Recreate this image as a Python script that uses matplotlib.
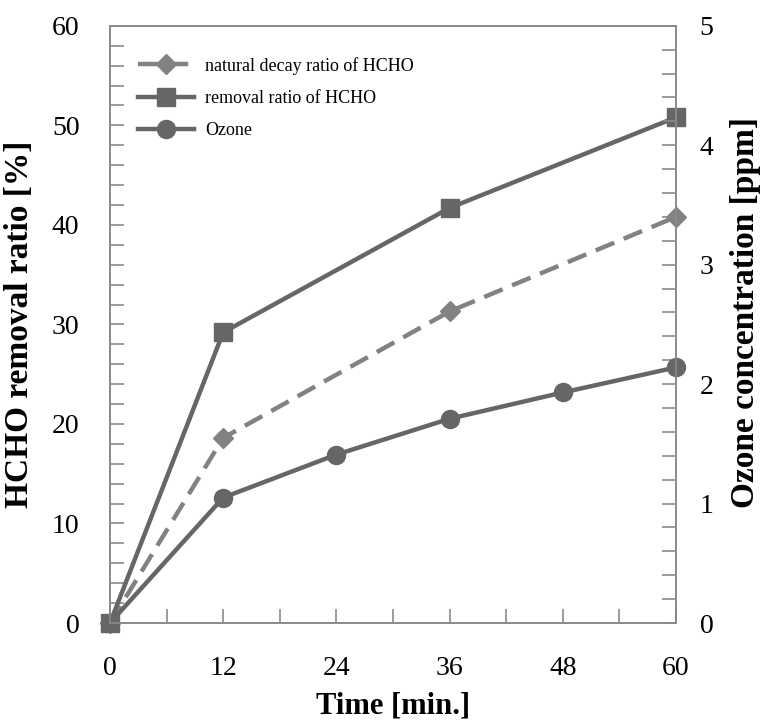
import matplotlib.pyplot as plt
from matplotlib.ticker import MultipleLocator

plt.rcParams['font.family'] = ['Liberation Serif', 'DejaVu Serif']

# data
time_hcho = [0, 12, 36, 60]
natural_decay = [0, 18.6, 31.3, 40.8]
removal = [0, 29.2, 41.7, 50.8]

time_ozone = [0, 12, 24, 36, 48, 60]
ozone = [0, 1.05, 1.41, 1.71, 1.93, 2.14]

fig = plt.figure(figsize=(7.71, 7.23), dpi=100)
ax = fig.add_axes([0.1427, 0.1383, 0.734, 0.826])
ax2 = ax.twinx()

dark = '#666666'
light = '#828282'

l1, = ax.plot(time_hcho, natural_decay, color=light, lw=3.2, ls=(0, (4.5, 2.3)),
              marker='D', ms=10, label='natural decay ratio of HCHO', clip_on=False)
l2, = ax.plot(time_hcho, removal, color=dark, lw=3.2, marker='s', ms=13.5,
              label='removal ratio of HCHO', clip_on=False)
l3, = ax2.plot(time_ozone, ozone, color=dark, lw=3.2, marker='o', ms=13,
               label='Ozone', clip_on=False)

ax.set_xlim(0, 60)
ax.set_ylim(0, 60)
ax2.set_ylim(0, 5)

ax.xaxis.set_major_locator(MultipleLocator(12))
ax.xaxis.set_minor_locator(MultipleLocator(6))
ax.yaxis.set_major_locator(MultipleLocator(10))
ax.yaxis.set_minor_locator(MultipleLocator(2))
ax2.yaxis.set_major_locator(MultipleLocator(1))
ax2.yaxis.set_minor_locator(MultipleLocator(0.2))

for a in (ax, ax2):
    for s in a.spines.values():
        s.set_color('#8a8a8a')
        s.set_linewidth(1.2)
    a.tick_params(which='both', direction='in', color='#8a8a8a', width=1.2,
                  length=10, labelsize=20)

ax.tick_params(axis='x', pad=24)
ax.tick_params(axis='y', pad=22)
ax2.tick_params(axis='y', pad=17)

ax.set_xlabel('Time [min.]', fontsize=22, fontweight='bold')
ax.set_ylabel('HCHO removal ratio [%]', fontsize=24, fontweight='bold')
ax2.set_ylabel('Ozone concentration [ppm]', fontsize=24, fontweight='bold')
ax.xaxis.set_label_coords(0.5, -0.115)
ax.yaxis.set_label_coords(-0.133, 0.5)
ax2.yaxis.set_label_coords(1.095, 0.52)

ax.legend(handles=[l1, l2, l3], loc='upper left', bbox_to_anchor=(0.037, 0.96),
          frameon=False, fontsize=13, handlelength=3.1, handletextpad=0.6,
          labelspacing=0.85, borderaxespad=0)

fig.savefig('out.png', dpi=100)
